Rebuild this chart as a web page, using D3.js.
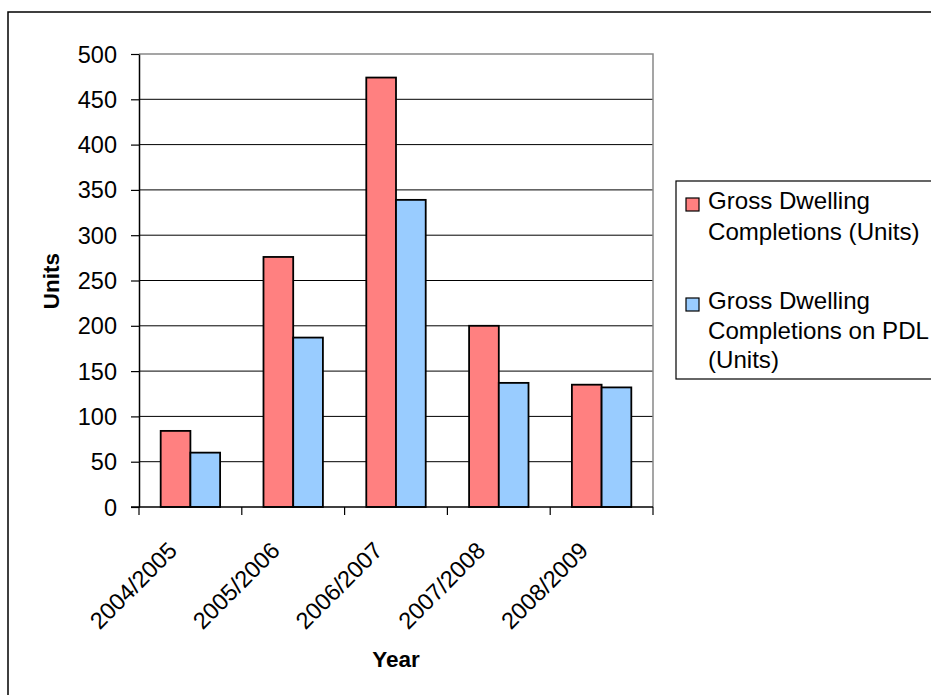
<!DOCTYPE html>
<html>
<head>
<meta charset="utf-8">
<script src="https://cdn.jsdelivr.net/npm/d3@7"></script>
<style>
	body { margin: 0; background: #fff; }
	svg text { font-family: "Liberation Sans", Arial, sans-serif; fill: #000; }
</style>
</head>
<body>
<div id="chart"></div>
<script>
var years = ["2004/2005", "2005/2006", "2006/2007", "2007/2008", "2008/2009"];
var seriesNames = ["gross", "pdl"];
var grossValues = [84, 276, 474, 200, 135];
var pdlValues = [60, 187, 339, 137, 132];
var yTicks = [0, 50, 100, 150, 200, 250, 300, 350, 400, 450, 500];
var legendLabels = [
	["Gross Dwelling", "Completions (Units)"],
	["Gross Dwelling", "Completions on PDL", "(Units)"]
];
var colors = ["#ff8080", "#99ccff"];

var W = 931, H = 695;
// note: "top" is taken by window.top, so plotTop etc.
var plotLeft = 139, plotRight = 653, plotTop = 54, plotBottom = 507;

var svg = d3.select("#chart").append("svg")
	.attr("width", W)
	.attr("height", H);

// outer chart border (runs off the right and bottom edge)
svg.append("rect")
	.attr("x", 8).attr("y", 12)
	.attr("width", W + 20).attr("height", H + 20)
	.attr("fill", "#fff")
	.attr("stroke", "#000")
	.attr("stroke-width", 1.5);

var x = d3.scaleBand().domain(years).range([plotLeft, plotRight]);
var xs = d3.scaleBand().domain(seriesNames).range([0, x.bandwidth()]).paddingOuter(0.73);
var y = d3.scaleLinear().domain([0, 500]).range([plotBottom, plotTop]);

// gridlines
svg.append("g")
	.selectAll("line")
	.data(yTicks.slice(1, -1))
	.enter()
	.append("line")
	.attr("x1", plotLeft).attr("x2", plotRight)
	.attr("y1", function(d) { return y(d); })
	.attr("y2", function(d) { return y(d); })
	.attr("stroke", "#000")
	.attr("stroke-width", 1);

// plot area border top + right
svg.append("path")
	.attr("d", "M" + plotLeft + "," + y(500) + "H" + plotRight + "V" + plotBottom)
	.attr("fill", "none")
	.attr("stroke", "#888")
	.attr("stroke-width", 1.5);

// bars
var rows = years.map(function(yr, i) {
	return {year: yr, values: [grossValues[i], pdlValues[i]]};
});
svg.append("g")
	.selectAll("g")
	.data(rows)
	.enter()
	.append("g")
	.attr("transform", function(d) { return "translate(" + x(d.year) + ",0)"; })
	.selectAll("rect")
	.data(function(d) { return d.values; })
	.enter()
	.append("rect")
	.attr("x", function(d, i) { return xs(seriesNames[i]); })
	.attr("width", xs.bandwidth())
	.attr("y", function(d) { return y(d); })
	.attr("height", function(d) { return plotBottom - y(d); })
	.attr("fill", function(d, i) { return colors[i]; })
	.attr("stroke", "#000")
	.attr("stroke-width", 1.8);

// y axis
var yAxis = svg.append("g")
	.attr("transform", "translate(" + plotLeft + ",0)")
	.call(d3.axisLeft(y).tickValues(yTicks).tickSize(8).tickPadding(14).tickSizeOuter(0));
yAxis.select(".domain").attr("stroke", "#000").attr("stroke-width", 1.5);
yAxis.selectAll(".tick line").attr("stroke", "#000").attr("stroke-width", 1.2);
yAxis.selectAll("text")
	.style("font-size", "23.5px")
	.attr("dy", "0.34em");

// x axis line and boundary ticks
svg.append("line")
	.attr("x1", plotLeft - 8).attr("x2", plotRight)
	.attr("y1", plotBottom).attr("y2", plotBottom)
	.attr("stroke", "#000").attr("stroke-width", 1.5);
var bounds = years.map(function(d) { return x(d); }).concat([plotRight]);
svg.append("g")
	.selectAll("line")
	.data(bounds)
	.enter()
	.append("line")
	.attr("x1", function(d) { return d; })
	.attr("x2", function(d) { return d; })
	.attr("y1", plotBottom).attr("y2", plotBottom + 8)
	.attr("stroke", "#000").attr("stroke-width", 1.2);

svg.append("g")
	.selectAll("text")
	.data(years)
	.enter()
	.append("text")
	.attr("transform", function(d) { return "translate(" + (x(d) + x.bandwidth() / 2 - 12) + ",552) rotate(-45)"; })
	.attr("text-anchor", "end")
	.style("font-size", "23.5px")
	.text(function(d) { return d; });

// axis titles
svg.append("text")
	.attr("x", (plotLeft + plotRight) / 2)
	.attr("y", 667)
	.attr("text-anchor", "middle")
	.style("font-size", "22.5px")
	.style("font-weight", "bold")
	.text("Year");

svg.append("text")
	.attr("transform", "translate(59,281) rotate(-90)")
	.attr("text-anchor", "middle")
	.style("font-size", "22.5px")
	.style("font-weight", "bold")
	.text("Units");

// legend
var legend = svg.append("g");
legend.append("rect")
	.attr("x", 676).attr("y", 181)
	.attr("width", 300).attr("height", 198)
	.attr("fill", "#fff")
	.attr("stroke", "#000")
	.attr("stroke-width", 1.2);

var legendTop = [209, 309];
var legendStep = [31, 29.5];
legendLabels.forEach(function(lines, i) {
	legend.append("rect")
		.attr("x", 686).attr("y", legendTop[i] - 11)
		.attr("width", 13).attr("height", 13)
		.attr("fill", colors[i])
		.attr("stroke", "#000")
		.attr("stroke-width", 1.2);
	legend.append("g")
		.selectAll("text")
		.data(lines)
		.enter()
		.append("text")
		.attr("x", 708)
		.attr("y", function(d, j) { return legendTop[i] + j * legendStep[i]; })
		.style("font-size", "24.1px")
		.text(function(d) { return d; });
});
</script>
</body>
</html>
